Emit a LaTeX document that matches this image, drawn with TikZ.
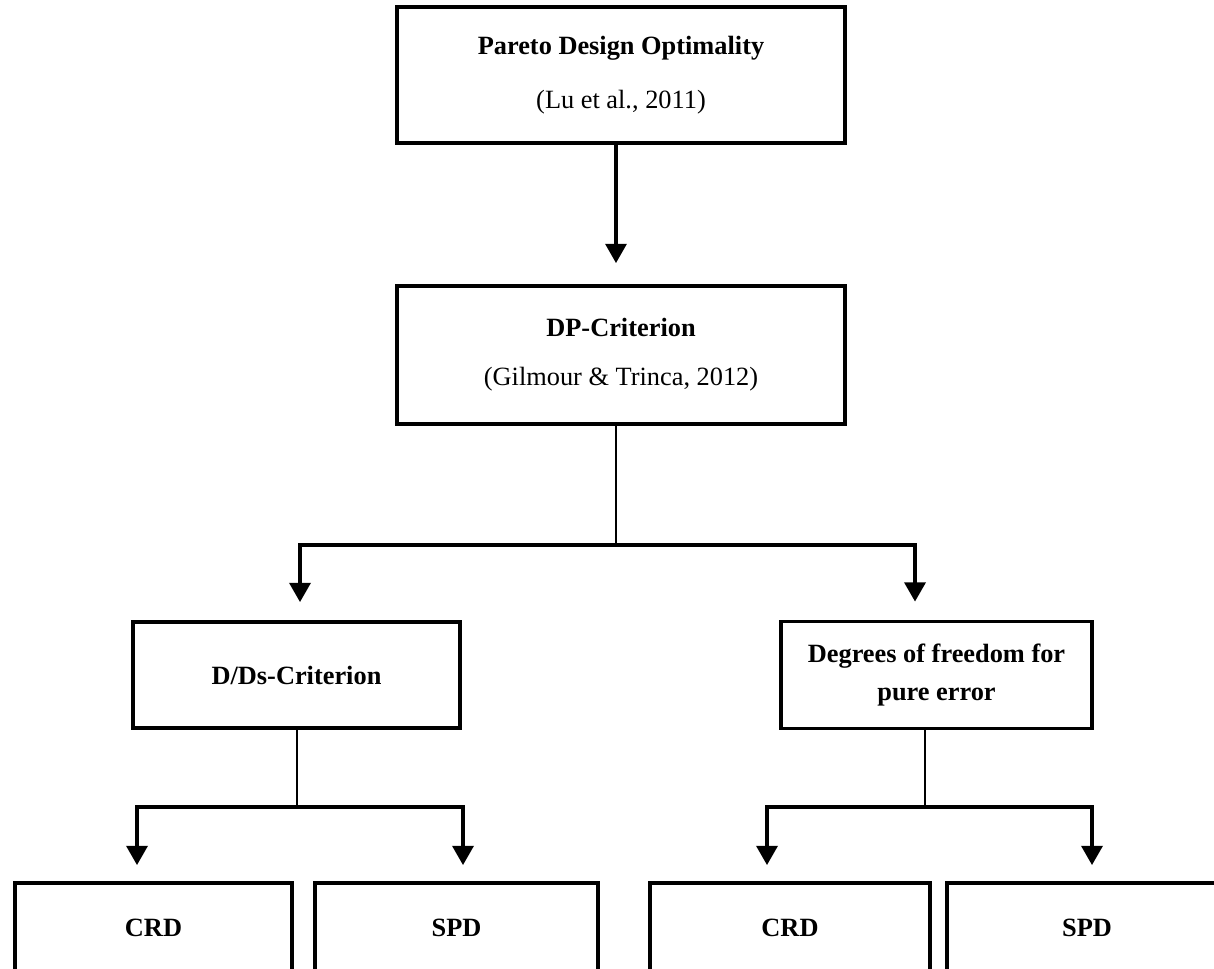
\documentclass[tikz,border=0pt]{standalone}
\usepackage{fontspec}
\setmainfont{Liberation Serif}
\usetikzlibrary{arrows.meta}

\tikzset{
  box/.style={draw, line width=2.2pt, align=center, inner sep=0pt},
  stem/.style={line width=1.5pt},
  branch/.style={line width=2pt, -{Triangle[width=12pt,length=11pt]}},
}

\begin{document}
\begin{tikzpicture}[x=0.02cm, y=-0.02cm, font=\fontsize{15}{18}\selectfont]
\useasboundingbox (0,0) rectangle (1214,969);
\clip (0,0) rectangle (1214,969);

\node[box, minimum width=8.96cm, minimum height=2.72cm] (pareto) at (621,75)
    {\textbf{Pareto Design Optimality}\\[13pt](Lu et al., 2011)};
\node[box, minimum width=8.96cm, minimum height=2.76cm] (dp) at (621,355)
    {\textbf{DP-Criterion}\\[10pt](Gilmour \& Trinca, 2012)};
\node[box, minimum width=6.54cm, minimum height=2.12cm] (dds) at (296.5,675)
    {\textbf{D/Ds-Criterion}};
\node[box, minimum width=6.22cm, minimum height=2.14cm] (dof) at (936.5,675)
    {\textbf{Degrees of freedom for}\\[4pt]\textbf{pure error}};
\node[box, minimum width=5.54cm, minimum height=1.8cm] (crdA) at (153.5,928) {\textbf{CRD}};
\node[box, minimum width=5.66cm, minimum height=1.8cm] (spdA) at (456.5,928) {\textbf{SPD}};
\node[box, minimum width=5.6cm, minimum height=1.8cm] (crdB) at (790,928) {\textbf{CRD}};
\node[box, minimum width=5.6cm, minimum height=1.8cm] (spdB) at (1087,928) {\textbf{SPD}};

\coordinate (fork1) at (616,545);
\coordinate (fork2) at (297,807);
\coordinate (fork3) at (925,807);

\draw[branch, line width=1.8pt, shorten >=0.42cm] (pareto.south -| fork1) -- (dp.north -| fork1);

\draw[stem] (dp.south -| fork1) -- (fork1);
\draw[branch, shorten >=0.36cm] (fork1) -| ([xshift=0.07cm]dds.north);
\draw[branch, shorten >=0.36cm] (fork1) -| ([xshift=-0.43cm]dof.north);

\draw[stem] (dds.south -| fork2) -- (fork2);
\draw[branch, shorten >=0.32cm] (fork2) -| ([xshift=-0.33cm]crdA.north);
\draw[branch, shorten >=0.32cm] (fork2) -| ([xshift=0.13cm]spdA.north);

\draw[stem] (dof.south -| fork3) -- (fork3);
\draw[branch, shorten >=0.32cm] (fork3) -| ([xshift=-0.46cm]crdB.north);
\draw[branch, shorten >=0.32cm] (fork3) -| ([xshift=0.1cm]spdB.north);
\end{tikzpicture}
\end{document}
